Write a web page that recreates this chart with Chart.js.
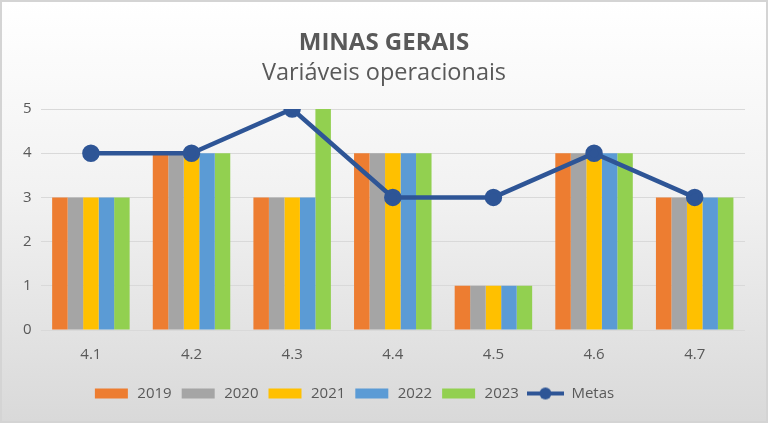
<!DOCTYPE html>
<html>
<head>
<meta charset="utf-8">
<script src="https://cdn.jsdelivr.net/npm/chart.js"></script>
<style>
  html, body { margin: 0; padding: 0; }
  #wrap {
    width: 768px; height: 423px; box-sizing: border-box;
    border: 2px solid #d4d4d4;
    background: linear-gradient(#ffffff 0%, #f2f2f2 45%, #d9d9d9 100%);
  }
</style>
</head>
<body>
<div id="wrap"><canvas id="grafico" width="764" height="419"></canvas></div>
<script>
// Données
const categorias = ['4.1', '4.2', '4.3', '4.4', '4.5', '4.6', '4.7'];
const anos = ['2019', '2020', '2021', '2022', '2023'];
const v2019 = [3, 4, 3, 4, 1, 4, 3];
const v2020 = [3, 4, 3, 4, 1, 4, 3];
const v2021 = [3, 4, 3, 4, 1, 4, 3];
const v2022 = [3, 4, 3, 4, 1, 4, 3];
const v2023 = [3, 4, 5, 4, 1, 4, 3];
const metas = [4, 4, 5, 3, 3, 4, 3];

const cores = ['#ED7D31', '#A5A5A5', '#FFC000', '#5B9BD5', '#92D050'];
const corMeta = '#2E5596';
const texto = '#595959';
const fonte = "'Open Sans', sans-serif";

// petite image pour la légende (boîte ou ligne avec point)
function iconeLegenda(cor, linha) {
    const c = document.createElement('canvas');
    c.width = 37; c.height = 14;
    const g = c.getContext('2d');
    if (linha) {
        g.strokeStyle = cor; g.lineWidth = 4;
        g.beginPath(); g.moveTo(0, 7); g.lineTo(37, 7); g.stroke();
        g.fillStyle = cor;
        g.beginPath(); g.arc(18.5, 7, 6, 0, Math.PI * 2); g.fill();
    } else {
        g.fillStyle = cor;
        g.fillRect(2, 2, 33, 10);
    }
    return c;
}

// ajustements de position : légende décalée à gauche, titres centrés sur la page
const ajustePositions = {
    id: 'ajustePositions',
    afterLayout(chart) {
        chart.legend.left -= 26;
        chart.legend.right -= 26;
        for (const b of chart.boxes) {
            if (b === chart.titleBlock || (b.options && b.options.text === 'Variáveis operacionais')) {
                b.left += 4.5;
                b.right += 4.5;
            }
        }
    }
};

const serieAnos = [v2019, v2020, v2021, v2022, v2023];
const datasets = anos.map((a, i) => ({
    type: 'bar',
    label: a,
    data: serieAnos[i],
    backgroundColor: cores[i],
    categoryPercentage: 0.77,
    barPercentage: 1.0,
    order: 1
}));
datasets.push({
    type: 'line',
    label: 'Metas',
    data: metas,
    borderColor: corMeta,
    backgroundColor: corMeta,
    borderWidth: 4.5,
    pointRadius: 6.5,
    pointHoverRadius: 6.5,
    pointBackgroundColor: corMeta,
    tension: 0,
    order: -1
});

new Chart(document.getElementById('grafico').getContext('2d'), {
    type: 'bar',
    data: { labels: categorias, datasets: datasets },
    plugins: [ajustePositions],
    options: {
        responsive: false,
        animation: false,
        layout: { padding: { left: 12, right: 21, top: 0, bottom: 10 } },
        plugins: {
            title: {
                display: true,
                text: 'MINAS GERAIS',
                color: texto,
                font: { family: fonte, size: 24, weight: 'bold' },
                padding: { top: 27, bottom: 1 }
            },
            subtitle: {
                display: true,
                text: 'Variáveis operacionais',
                color: texto,
                font: { family: fonte, size: 23.5, weight: 'normal' },
                padding: { top: 0, bottom: 22 }
            },
            legend: {
                position: 'bottom',
                labels: {
                    color: texto,
                    font: { family: fonte, size: 15 },
                    usePointStyle: true,
                    pointStyleWidth: 37,
                    boxHeight: 14,
                    padding: 8,
                    generateLabels: function(chart) {
                        return chart.data.datasets.map((ds, i) => ({
                            text: ds.label,
                            fontColor: texto,
                            pointStyle: iconeLegenda(ds.type === 'line' ? corMeta : cores[i], ds.type === 'line'),
                            lineWidth: 0,
                            datasetIndex: i,
                            hidden: false
                        }));
                    }
                }
            },
            tooltip: { enabled: false }
        },
        scales: {
            x: {
                grid: { display: false },
                border: { display: false },
                ticks: { color: texto, font: { family: fonte, size: 15 }, padding: 8 },
                afterFit: (scale) => { scale.height += 6; }
            },
            y: {
                min: 0, max: 5,
                ticks: { stepSize: 1, color: texto, font: { family: fonte, size: 15 }, padding: 9 },
                grid: { color: '#d9d9d9', lineWidth: 1, drawTicks: false },
                border: { display: false }
            }
        }
    }
});
</script>
</body>
</html>
